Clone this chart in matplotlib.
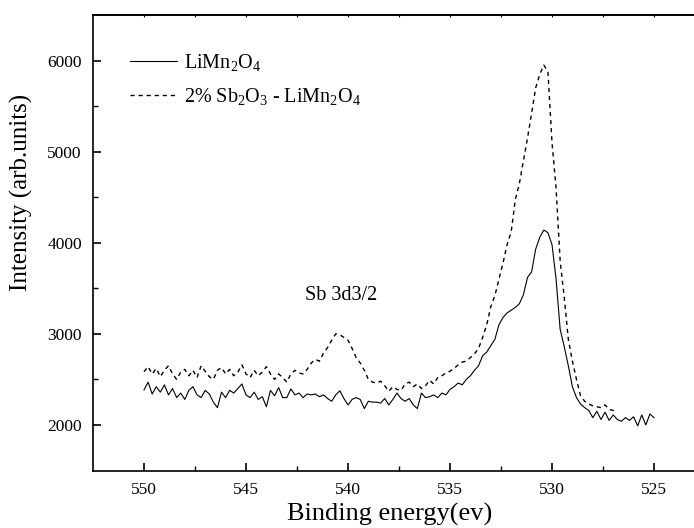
import numpy as np
import matplotlib
matplotlib.use("Agg")
import matplotlib.pyplot as plt

plt.rcParams['font.family'] = ['Liberation Serif', 'DejaVu Serif']
plt.rcParams['mathtext.fontset'] = 'custom'
plt.rcParams['mathtext.rm'] = 'Liberation Serif'
plt.rcParams['mathtext.it'] = 'Liberation Serif:italic'

# Binding energy grid (eV), 0.2 eV step starting at 550 eV
e_start = 550.0
e_step = 0.2

# LiMn2O4 (solid)
limn2o4 = [
    2385, 2470, 2340, 2420, 2360, 2440, 2330, 2400, 2300, 2350,
    2280, 2380, 2420, 2330, 2300, 2380, 2340, 2250, 2190, 2360,
    2300, 2380, 2350, 2400, 2450, 2330, 2300, 2360, 2280, 2310,
    2200, 2380, 2320, 2410, 2300, 2300, 2395, 2330, 2350, 2300,
    2340, 2330, 2340, 2310, 2330, 2290, 2260, 2330, 2375, 2290,
    2220, 2280, 2300, 2280, 2180, 2260, 2250, 2250, 2240, 2290,
    2220, 2280, 2350, 2290, 2260, 2290, 2220, 2180, 2350, 2300,
    2310, 2330, 2300, 2350, 2330, 2390, 2420, 2460, 2440, 2500,
    2540, 2600, 2650, 2760, 2800, 2870, 2940, 3100, 3180, 3230,
    3260, 3290, 3330, 3430, 3620, 3680, 3930, 4060, 4140, 4110,
    3980, 3600, 3050, 2860, 2650, 2420, 2300, 2230, 2190, 2160,
    2080, 2150, 2060, 2140, 2050, 2110, 2060, 2040, 2080, 2050,
    2090, 1990, 2110, 2000, 2120, 2080,
]

# 2% Sb2O3 - LiMn2O4 (dashed)
sb_doped = [
    2585, 2640, 2560, 2620, 2530, 2600, 2650, 2560, 2500, 2580,
    2610, 2540, 2600, 2520, 2650, 2590, 2530, 2500, 2600, 2630,
    2560, 2610, 2540, 2580, 2660, 2560, 2520, 2600, 2540, 2580,
    2640, 2560, 2500, 2560, 2520, 2470, 2560, 2600, 2570, 2560,
    2610, 2680, 2720, 2700, 2790, 2850, 2930, 3000, 2990, 2960,
    2930, 2840, 2740, 2680, 2600, 2500, 2470, 2460, 2480, 2430,
    2370, 2420, 2390, 2380, 2450, 2470, 2420, 2450, 2400, 2430,
    2490, 2450, 2520, 2540, 2570, 2590, 2620, 2660, 2690, 2700,
    2740, 2780, 2840, 2960, 3100, 3300, 3420, 3600, 3780, 3980,
    4120, 4470, 4650, 4900, 5150, 5420, 5700, 5850, 5950, 5880,
    5100, 4600, 3800, 3400, 2940, 2700, 2500, 2320, 2260, 2230,
    2210, 2200, 2190, 2220, 2170, 2160, 2150,
]

x_ticks = [550, 545, 540, 535, 530, 525]
y_ticks = [2000, 3000, 4000, 5000, 6000]

e1 = e_start - e_step * np.arange(len(limn2o4))
e2 = e_start - e_step * np.arange(len(sb_doped))

W, H = 694, 528
fig = plt.figure(figsize=(W / 100, H / 100), dpi=100)
left, right, top, bottom = 93, 705, 15, 470.5
ax = fig.add_axes([left / W, (H - bottom) / H, (right - left) / W, (bottom - top) / H])

ax.plot(e1, limn2o4, color='black', lw=0.8, label='LiMn$_2$O$_4$')
ax.plot(e2, sb_doped, color='black', lw=1.0, linestyle=(0, (3.0, 2.8)),
        label='2% Sb$_2$O$_3$ - LiMn$_2$O$_4$')

ax.set_xlim(552.5, 522.5)
ax.set_ylim(1500, 6500)
ax.set_xticks(x_ticks)
ax.set_yticks(y_ticks)
ax.set_xticks(np.arange(547.5, 522, -5), minor=True)
ax.set_yticks(np.arange(2500, 6500, 1000), minor=True)
ax.tick_params(which='major', direction='in', length=6, width=1.2, labelsize=12.5, pad=8)
ax.tick_params(which='minor', direction='in', length=3.5, width=1.0)
for s in ax.spines.values():
    s.set_linewidth(1.2)

sec = ax.secondary_xaxis('top')
sec.set_xticks(x_ticks)
sec.set_xticks(np.arange(547.5, 522, -5), minor=True)
sec.tick_params(which='both', direction='in', length=1.5, width=0.8, labeltop=False)
sec.spines['top'].set_linewidth(1.2)

fig.text(21.7 / W, 1 - 192 / H, 'Intensity (arb.units)', rotation=90,
         ha='center', va='center', fontsize=18)
fig.text(390 / W, 1 - 520.5 / H, 'Binding energy(ev)', ha='center', va='baseline', fontsize=19)

ax.text(540.35, 3420, 'Sb 3d3/2', ha='center', va='center', fontsize=14.5)

leg = ax.legend(loc='upper left',
                bbox_to_anchor=((130 - left) / (right - left), 1 - (52 - top) / (bottom - top)),
                frameon=False, fontsize=14.5, handlelength=2.35, handletextpad=0.35,
                labelspacing=0.65, borderaxespad=0, borderpad=0)

fig.savefig('out.png', dpi=100)
